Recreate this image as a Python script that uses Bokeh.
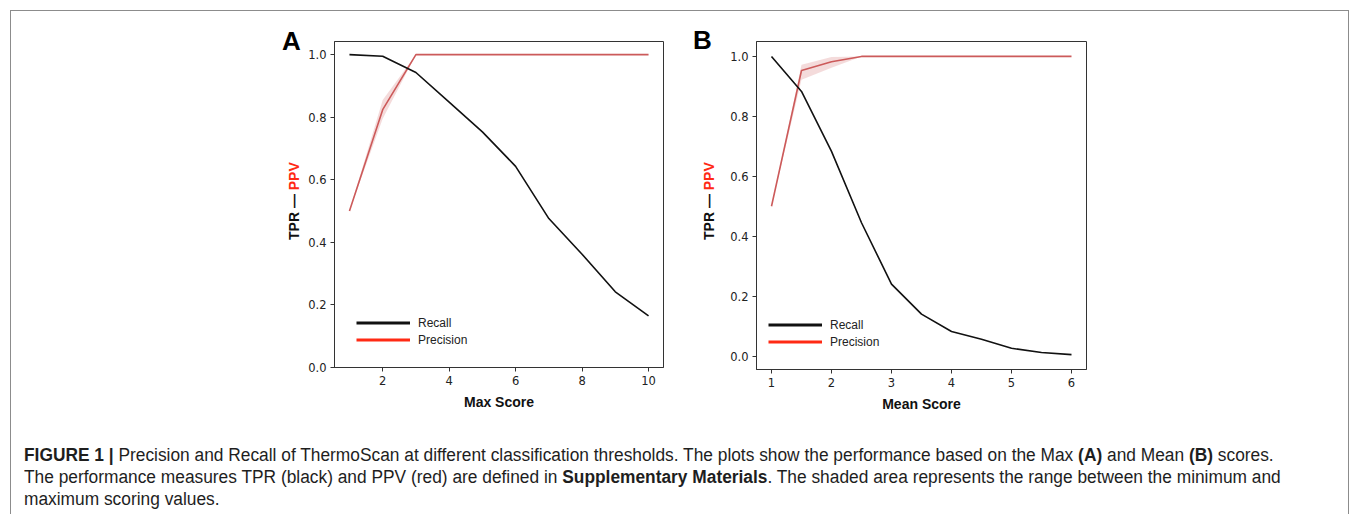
from bokeh.plotting import figure
from bokeh.models import (Div, Spacer, Legend, LegendItem, FixedTicker,
                          NumeralTickFormatter, Range1d, ColumnDataSource)
from bokeh.layouts import column, row
from bokeh.embed import file_html
from bokeh.resources import INLINE

# ---------------- data ----------------
score_a = [1, 2, 3, 4, 5, 6, 7, 8, 9, 10]
recall_a = [1.0, 0.995, 0.943, 0.848, 0.753, 0.643, 0.476, 0.362, 0.242, 0.165]
precision_a = [0.5, 0.824, 1.0, 1.0, 1.0, 1.0, 1.0, 1.0, 1.0, 1.0]
precision_a_lo = [0.5, 0.795, 1.0, 1.0, 1.0, 1.0, 1.0, 1.0, 1.0, 1.0]
precision_a_hi = [0.5, 0.855, 1.0, 1.0, 1.0, 1.0, 1.0, 1.0, 1.0, 1.0]

score_b = [1, 1.5, 2, 2.5, 3, 3.5, 4, 4.5, 5, 5.5, 6]
recall_b = [1.0, 0.883, 0.683, 0.445, 0.24, 0.14, 0.082, 0.056, 0.026, 0.012, 0.005]
precision_b = [0.5, 0.953, 0.982, 1.0, 1.0, 1.0, 1.0, 1.0, 1.0, 1.0, 1.0]
precision_b_lo = [0.5, 0.922, 0.962, 1.0, 1.0, 1.0, 1.0, 1.0, 1.0, 1.0, 1.0]
precision_b_hi = [0.5, 0.972, 0.998, 1.0, 1.0, 1.0, 1.0, 1.0, 1.0, 1.0, 1.0]

xticks_a = [2, 4, 6, 8, 10]
xticks_b = [1, 2, 3, 4, 5, 6]
yticks = [0.0, 0.2, 0.4, 0.6, 0.8, 1.0]
legend_labels = ["Recall", "Precision"]
ylabel_black = "TPR \u2014 "
ylabel_red = "PPV"

caption_html = (
    "<div style='transform:scaleX(0.963);transform-origin:0 0;'>"
    "<b>FIGURE 1 |</b> Precision and Recall of ThermoScan at different classification thresholds. "
    "The plots show the performance based on the Max <b>(A)</b> and Mean <b>(B)</b> scores.<br>"
    "The performance measures TPR (black) and PPV (red) are defined in <b>Supplementary Materials</b>. "
    "The shaded area represents the range between the minimum and<br>"
    "maximum scoring values.</div>"
)

LINE_RED = "#cc5a5a"
LEG_RED = "#ff2a14"
TICK_FONT = "DejaVu Sans"
HEL = "Liberation Sans"
H = 401


def make_panel(x, rec, prec, lo, hi, xr, yr, xticks, xlabel, leg_loc, mbl, mbt, fw, fh, mbr):
    p = figure(x_range=Range1d(*xr), y_range=Range1d(*yr),
               frame_width=fw, frame_height=fh,
               min_border_left=mbl, min_border_right=mbr,
               min_border_top=mbt, min_border_bottom=45,
               output_backend="svg", toolbar_location=None)
    p.grid.visible = False
    p.outline_line_color = "#333333"
    p.outline_line_width = 1
    p.background_fill_color = "white"
    p.border_fill_color = "white"
    src = ColumnDataSource(dict(x=x, rec=rec, prec=prec, lo=lo, hi=hi))
    p.varea(x="x", y1="lo", y2="hi", source=src, fill_color=LINE_RED, fill_alpha=0.22)
    p.line(x="x", y="prec", source=src, line_color=LINE_RED, line_width=1.6)
    p.line(x="x", y="rec", source=src, line_color="#111111", line_width=1.6)
    off = [xr[0] - 100, xr[0] - 99]
    r1 = p.line(x=off, y=[-100, -100], line_color="#111111", line_width=3)
    r2 = p.line(x=off, y=[-100, -100], line_color=LEG_RED, line_width=3)
    leg = Legend(items=[LegendItem(label=legend_labels[0], renderers=[r1]),
                        LegendItem(label=legend_labels[1], renderers=[r2])],
                 location=leg_loc, glyph_width=54, glyph_height=17, label_height=17,
                 label_standoff=8, spacing=0, padding=0, margin=0,
                 background_fill_alpha=0, border_line_alpha=0,
                 label_text_font=HEL, label_text_font_size="12px",
                 label_text_color="#222222")
    p.add_layout(leg)
    for ax in (p.xaxis[0], p.yaxis[0]):
        ax.major_tick_out = 4
        ax.major_tick_in = 0
        ax.minor_tick_out = 0
        ax.minor_tick_in = 0
        ax.axis_line_color = "#333333"
        ax.major_tick_line_color = "#333333"
        ax.major_label_text_font = TICK_FONT
        ax.major_label_text_font_size = "11.5px"
        ax.major_label_text_color = "#222222"
        ax.major_label_standoff = 4
    p.xaxis.ticker = FixedTicker(ticks=xticks)
    p.yaxis.ticker = FixedTicker(ticks=yticks)
    p.yaxis.formatter = NumeralTickFormatter(format="0.0")
    p.xaxis.axis_label = xlabel
    p.xaxis.axis_label_text_font = HEL
    p.xaxis.axis_label_text_font_style = "bold"
    p.xaxis.axis_label_text_font_size = "14px"
    p.xaxis.axis_label_text_color = "#111111"
    p.xaxis.axis_label_standoff = 6
    return p


def side_div(width, letter, letter_left, letter_top, ylab_left, ylab_bottom):
    html = (
        f"<div style='position:relative;width:{width}px;height:{H}px;"
        f"font-family:\"Liberation Sans\",sans-serif;font-weight:bold;'>"
        f"<div style='position:absolute;left:{letter_left}px;top:{letter_top}px;"
        f"font-size:26px;line-height:26px;color:#000;'>{letter}</div>"
        f"<div style='position:absolute;left:{ylab_left}px;top:{ylab_bottom}px;"
        f"font-size:14px;line-height:16px;white-space:nowrap;color:#111;"
        f"transform:rotate(-90deg);transform-origin:0 0;'>{ylabel_black}"
        f"<span style='color:#ff2a14'>{ylabel_red}</span></div>"
        f"</div>"
    )
    return Div(text=html, width=width, height=H, margin=0,
               styles={"overflow": "visible"})


fig_a = make_panel(score_a, recall_a, precision_a, precision_a_lo, precision_a_hi,
                   (0.55, 10.45), (0.0, 1.042), xticks_a, "Max Score", (22, 19),
                   33, 30, 329, 326, 27)
fig_b = make_panel(score_b, recall_b, precision_b, precision_b_lo, precision_b_hi,
                   (0.75, 6.25), (-0.0448, 1.0498), xticks_b, "Mean Score", (12, 19),
                   38, 28, 330, 328, 24)

side_a = side_div(39, "A", 20, 17, 24, 229)
side_b = side_div(28, "B", 3, 16, 11, 229)

caption = Div(text=caption_html, width=1320, height=70, margin=(32, 0, 0, 13),
              styles={"font-family": "'Liberation Sans', sans-serif",
                      "font-size": "18px", "line-height": "22px", "color": "#1e1e1e",
                      "white-space": "nowrap"})

layout = column(row(Spacer(width=251, height=H), side_a, fig_a, side_b, fig_b),
                caption,
                styles={"border-top": "1px solid #8c8c8c",
                        "border-left": "1px solid #8c8c8c",
                        "border-right": "1px solid #8c8c8c",
                        "margin-left": "10px", "margin-top": "10px",
                        "background-color": "white"},
                width=1339)

open("out.html", "w").write(file_html(layout, INLINE))
